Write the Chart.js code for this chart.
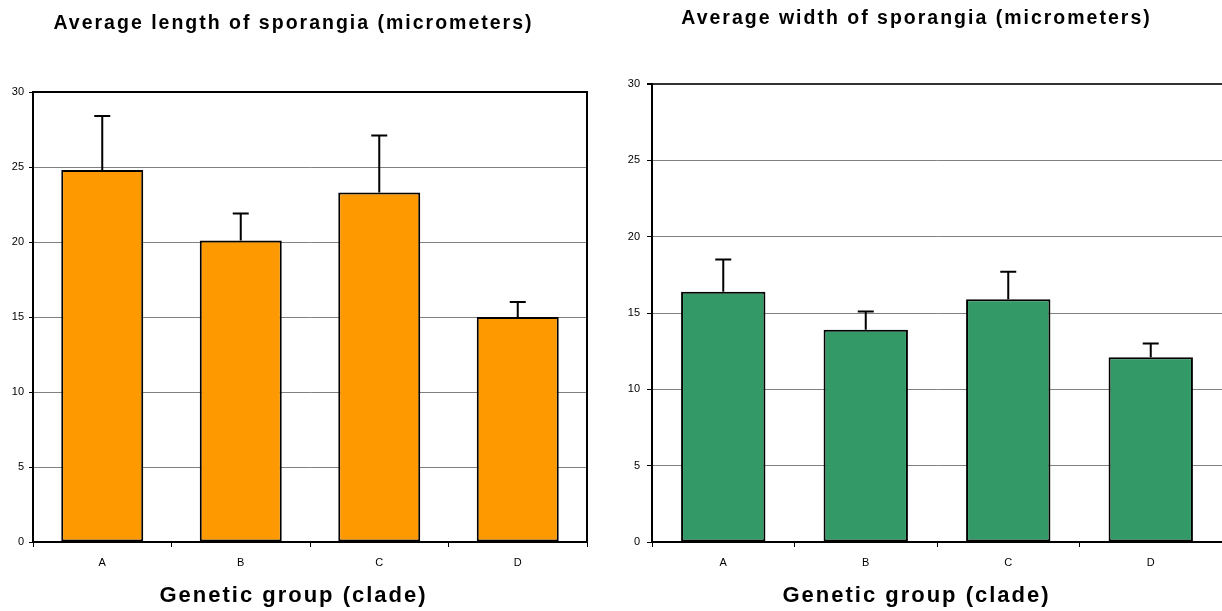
<!DOCTYPE html>
<html>
<head>
<meta charset="utf-8">
<title>Sporangia size by clade</title>
<script src="https://cdn.jsdelivr.net/npm/chart.js@4.4.1/dist/chart.umd.min.js"></script>
<style>
    body { margin: 0; background: #fff; }
    .panel { position: absolute; top: 0; width: 611px; height: 611px; }
</style>
</head>
<body>
<div class="panel" style="left:0"><canvas id="length_chart" width="611" height="611"></canvas></div>
<div class="panel" style="left:611px"><canvas id="width_chart" width="611" height="611"></canvas></div>
<script>
const categories = ['A', 'B', 'C', 'D'];
const length_means = [24.8, 20.1, 23.3, 15.0];
const length_errors = [3.6, 1.8, 3.8, 1.0];
const width_means = [16.4, 13.9, 15.9, 12.1];
const width_errors = [2.1, 1.2, 1.8, 0.9];
const y_max = 30;
const y_step = 5;

const FONT = "'Liberation Sans', Arial, sans-serif";

// titles in the original are letter-spaced; ticks are drawn later (z: 1) without it
const spaced_text_plugin = {
    id: 'spaced_text',
    beforeDraw: (chart) => { chart.ctx.letterSpacing = '2px'; },
    beforeDatasetsDraw: (chart) => { chart.ctx.letterSpacing = '0px'; }
};

const error_bar_plugin = {
    id: 'error_bars',
    afterDatasetsDraw: (chart) => {
        const ctx = chart.ctx;
        const y_scale = chart.scales.y;
        chart.data.datasets.forEach((dataset, di) => {
            const meta = chart.getDatasetMeta(di);
            meta.data.forEach((bar, i) => {
                const top = y_scale.getPixelForValue(dataset.data[i] + dataset.errors[i]);
                ctx.save();
                ctx.strokeStyle = '#000';
                ctx.lineWidth = 2;
                ctx.beginPath();
                ctx.moveTo(bar.x, bar.y);
                ctx.lineTo(bar.x, top);
                ctx.moveTo(bar.x - 8, top);
                ctx.lineTo(bar.x + 8, top);
                ctx.stroke();
                ctx.restore();
            });
        });
    }
};

const box_border_plugin = {
    id: 'box_border',
    afterDatasetsDraw: (chart) => {
        const a = chart.chartArea;
        const ctx = chart.ctx;
        ctx.save();
        ctx.strokeStyle = '#000';
        ctx.lineWidth = 2;
        ctx.strokeRect(a.left, a.top, a.right - a.left, a.bottom - a.top);
        ctx.restore();
    }
};

function make_chart(canvas_id, s) {
    const config = {
        type: 'bar',
        data: {
            labels: categories,
            datasets: [{
                data: s.means,
                errors: s.errors,
                backgroundColor: s.color,
                borderColor: '#000',
                borderWidth: 2,
                borderSkipped: false,
                barPercentage: 0.592,
                categoryPercentage: 1
            }]
        },
        options: {
            responsive: false,
            animation: false,
            layout: { padding: { left: 0, right: s.pad_right, top: 0, bottom: 0 } },
            scales: {
                x: {
                    grid: { drawOnChartArea: false, drawTicks: true, tickLength: 5, tickColor: '#000', offset: true },
                    border: { color: '#000', width: 2 },
                    ticks: { font: { family: FONT, size: 11 }, color: '#000', padding: 9, z: 1 },
                    afterFit: (scale) => { scale.height = 35; }
                },
                y: {
                    min: 0,
                    max: y_max,
                    grid: {
                        color: (c) => (s.dark_top && c.tick && c.tick.value === y_max) ? '#333' : '#808080',
                        lineWidth: (c) => (s.dark_top && c.tick && c.tick.value === y_max) ? 2 : 1,
                        tickLength: s.tick_len,
                        tickColor: '#000'
                    },
                    border: { color: '#000', width: 2 },
                    ticks: { stepSize: y_step, font: { family: FONT, size: 11 }, color: '#000', padding: s.tick_pad, z: 1 },
                    afterFit: (scale) => { scale.width = s.axis_x; }
                }
            },
            plugins: {
                legend: { display: false },
                tooltip: { enabled: false },
                title: {
                    display: true,
                    text: s.title,
                    color: '#000',
                    font: { family: FONT, size: 19.5, weight: 'bold' },
                    padding: { top: s.title_top, bottom: s.title_bottom }
                },
                subtitle: {
                    display: true,
                    position: 'bottom',
                    text: 'Genetic group (clade)',
                    color: '#000',
                    font: { family: FONT, size: 22, weight: 'bold' },
                    padding: { top: 5.8, bottom: 1.8 }
                }
            }
        },
        plugins: [spaced_text_plugin, error_bar_plugin].concat(s.boxed ? [box_border_plugin] : [])
    };
    const ctx = document.getElementById(canvas_id).getContext('2d');
    return new Chart(ctx, config);
}

make_chart('length_chart', {
    title: 'Average length of sporangia (micrometers)',
    means: length_means,
    errors: length_errors,
    color: '#FF9900',
    pad_right: 24,
    axis_x: 33,
    tick_len: 4,
    tick_pad: 5,
    title_top: 12.3,
    title_bottom: 56.3,
    boxed: true,
    dark_top: false
});

make_chart('width_chart', {
    title: 'Average width of sporangia (micrometers)',
    means: width_means,
    errors: width_errors,
    color: '#339966',
    pad_right: 0,
    axis_x: 41,
    tick_len: 5,
    tick_pad: 7,
    title_top: 7.3,
    title_bottom: 53.3,
    boxed: false,
    dark_top: true
});
</script>
</body>
</html>
